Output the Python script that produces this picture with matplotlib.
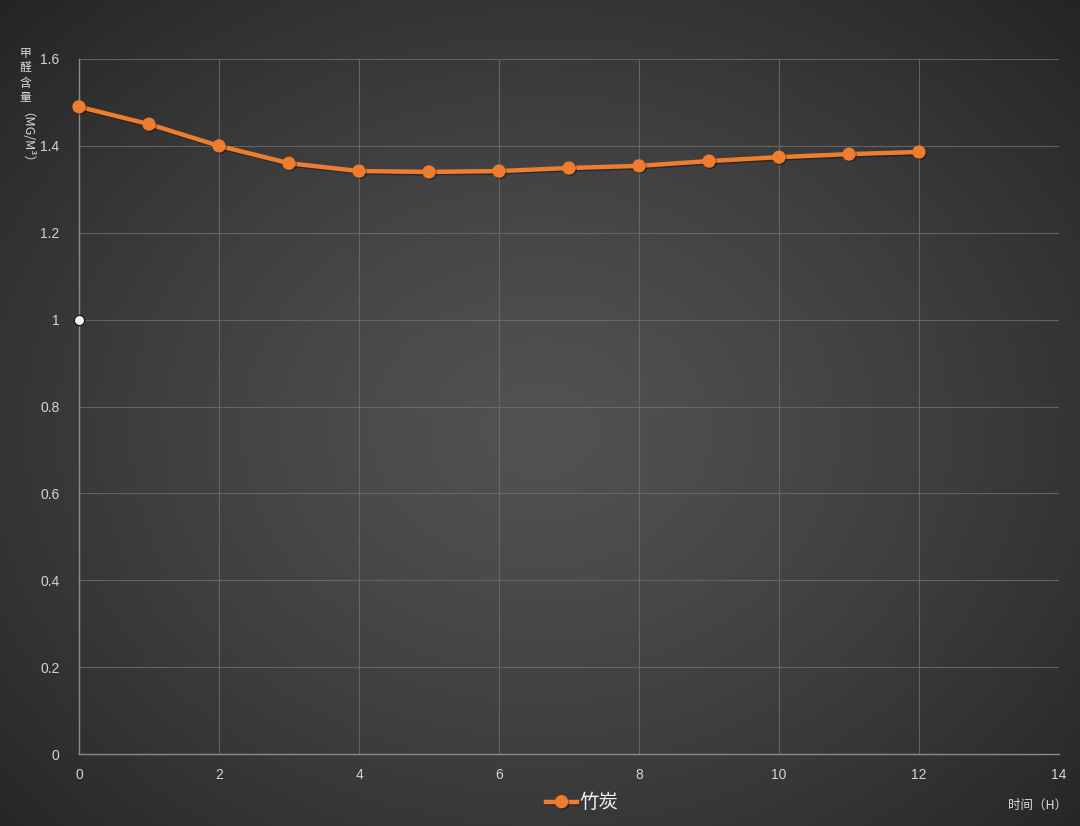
import numpy as np
import matplotlib
matplotlib.use('Agg')
import matplotlib.pyplot as plt
import matplotlib.patheffects as pe
from matplotlib.ticker import FuncFormatter

plt.rcParams['font.family'] = ['Noto Sans CJK SC', 'DejaVu Sans']

hours = [0, 1, 2, 3, 4, 5, 6, 7, 8, 9, 10, 11, 12]
zhutan = [1.49, 1.45, 1.40, 1.36, 1.342, 1.340, 1.342, 1.349, 1.354, 1.365, 1.374, 1.381, 1.386]
extra_x = [0]
extra_y = [1.0]

fig = plt.figure(figsize=(10.8, 8.26), dpi=100)

# radial gradient background
bg = fig.add_axes([0, 0, 1, 1], zorder=-1)
yy, xx = np.mgrid[0:826, 0:1080]
r = np.sqrt(((xx - 540) / 760.0) ** 2 + ((yy - 430) / 620.0) ** 2)
r = np.clip(r, 0, 1)
val = 0.32 - 0.18 * r ** 1.3
img = np.dstack([val, val, val])
bg.imshow(img, aspect='auto', extent=[0, 1, 0, 1])
bg.axis('off')

ax = fig.add_axes([79 / 1080, 72 / 826, 980 / 1080, 695 / 826])
ax.set_facecolor('none')
ax.set_xlim(0, 14)
ax.set_ylim(0, 1.6)
ax.set_xticks(np.arange(0, 15, 2))
ax.set_yticks(np.arange(0, 1.61, 0.2))
ax.yaxis.set_major_formatter(FuncFormatter(lambda v, p: '%g' % round(v, 2)))
ax.grid(True, color='#6e6e6e', linewidth=0.8, alpha=0.8)
for s in ['top', 'right']:
    ax.spines[s].set_visible(False)
for s in ['left', 'bottom']:
    ax.spines[s].set_color('#8a8a8a')
    ax.spines[s].set_linewidth(1.0)
ax.tick_params(colors='#d4d4d4', labelsize=10, length=0, pad=10)
ax.tick_params(axis='y', pad=14)
for lab in ax.get_xticklabels() + ax.get_yticklabels():
    lab.set_fontfamily(['Liberation Sans', 'DejaVu Sans'])

line, = ax.plot(hours, zhutan, color='#EE7D30', linewidth=3.2, marker='o', markersize=8.5,
                label='竹炭', zorder=3, clip_on=False)
line.set_path_effects([pe.SimpleLineShadow(offset=(1, -1), alpha=0.35), pe.Normal()])
ax.scatter(extra_x, extra_y, s=55, color='#f2f2f2', edgecolor='#1e1e1e', linewidth=1.0,
           zorder=4, clip_on=False)

# y axis label, vertical writing
ylab_chars = ['甲', '醛', '含', '量']
for i, ch in enumerate(ylab_chars):
    fig.text(25 / 1080, 1 - (53 + i * 15) / 826, ch, color='#dcdcdc', fontsize=8.5,
             ha='center', va='center')
fig.text(20 / 1080, 1 - 112 / 826, '（MG/M³）', color='#dcdcdc', fontsize=9,
         rotation=-90, ha='left', va='center', rotation_mode='anchor')

fig.text(1038 / 1080, 1 - 805 / 826, '时间（H）', color='#dcdcdc', fontsize=9,
         ha='center', va='center')

leg = fig.legend(handles=[line], loc='center', bbox_to_anchor=(582 / 1080, 1 - 803 / 826),
                 frameon=False, fontsize=14, handlelength=1.6, handletextpad=0.1,
                 labelcolor='#f0f0f0')

fig.savefig('out.png', dpi=100)
